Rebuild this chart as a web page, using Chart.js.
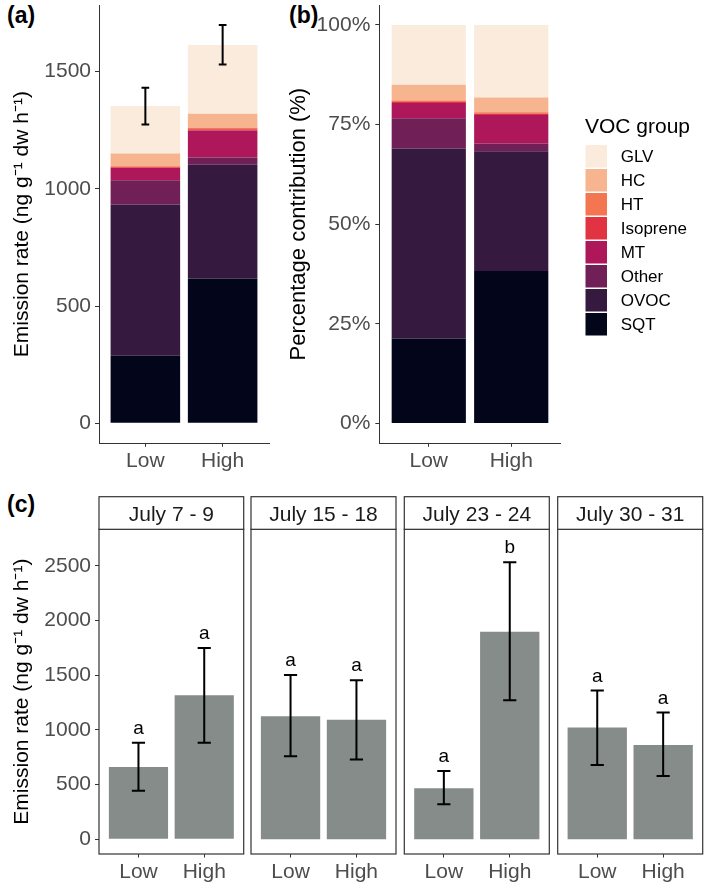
<!DOCTYPE html>
<html><head><meta charset="utf-8">
<script src="https://cdn.jsdelivr.net/npm/chart.js@4/dist/chart.umd.min.js"></script>
<style>
html,body{margin:0;padding:0;background:#fff;}
body{width:709px;height:888px;position:relative;overflow:hidden;font-family:'Liberation Sans',Arial,sans-serif;}
canvas{position:absolute;}
.lab{position:absolute;font-weight:bold;font-size:23px;line-height:23px;color:#000;}
</style></head><body>
<div class="lab" style="left:7px;top:4px">(a)</div>
<div class="lab" style="left:289px;top:4px">(b)</div>
<div class="lab" style="left:7px;top:493px">(c)</div>
<canvas id="cA" width="280" height="480" style="left:0;top:0"></canvas>
<canvas id="cB" width="433" height="480" style="left:276px;top:0"></canvas>
<canvas id="c1" width="247" height="404" style="left:0;top:484px"></canvas>
<canvas id="c2" width="153" height="404" style="left:247px;top:484px"></canvas>
<canvas id="c3" width="153" height="404" style="left:400px;top:484px"></canvas>
<canvas id="c4" width="156" height="404" style="left:553px;top:484px"></canvas>
<script>
// ---------- data ----------
const groups = ['SQT','OVOC','Other','MT','Isoprene','HT','HC','GLV'];
const groupColors = ['#03051A','#36193E','#701F57','#AE1759','#E13342','#F37651','#F6B48F','#FAEBDD'];
const lightLevels = ['Low','High'];
const SQT = [288, 617];
const OVOC = [645, 485];
const Other = [103, 31];
const MT = [52, 115];
const Isoprene = [3, 5];
const HT = [5, 6];
const HC = [54, 60];
const GLV = [203, 294];
const totalLower = [1274, 1529];
const totalUpper = [1430, 1698];
const yTicksA = [0, 500, 1000, 1500];
const yTicksB = [0, 25, 50, 75, 100];

const periods = ['July 7 - 9', 'July 15 - 18', 'July 23 - 24', 'July 30 - 31'];
const meanLow = [661, 1126, 466, 1022];
const meanHigh = [1318, 1092, 1898, 862];
const lowerLow = [444, 758, 320, 679];
const lowerHigh = [882, 730, 1272, 579];
const upperLow = [882, 1503, 624, 1360];
const upperHigh = [1750, 1455, 2534, 1159];
const letterLow = ['a', 'a', 'a', 'a'];
const letterHigh = ['a', 'a', 'b', 'a'];
const yTicksC = [0, 500, 1000, 1500, 2000, 2500];

// ---------- helpers ----------
const FAM = "'Liberation Sans', Arial, sans-serif";
Chart.defaults.font.family = FAM;
Chart.defaults.animation = false;
Chart.defaults.responsive = false;
Chart.defaults.plugins.legend.display = false;
Chart.defaults.plugins.tooltip.enabled = false;

const groupValues = [SQT, OVOC, Other, MT, Isoprene, HT, HC, GLV];
const totals = lightLevels.map((c, i) => groupValues.reduce((s, arr) => s + arr[i], 0));

function noPad(s) { s.paddingTop = 0; s.paddingBottom = 0; s.paddingLeft = 0; s.paddingRight = 0; }

function xScale(height, opts) {
  return Object.assign({
    type: 'linear', min: 0.4, max: 2.6, stacked: true, offset: false,
    afterBuildTicks: s => { s.ticks = lightLevels.map((c, i) => ({ value: i + 1 })); },
    afterFit: s => { s.height = height; noPad(s); },
    ticks: { callback: v => lightLevels[v - 1] ?? '', color: '#4d4d4d', font: { size: 21 }, padding: 2, maxRotation: 0, autoSkip: false },
    grid: { display: true, offset: false, drawOnChartArea: false, drawTicks: true, tickLength: 3.5, color: '#333', lineWidth: 1 },
    border: { display: true, color: '#333', width: 1 }
  }, opts || {});
}

function makeErr(lower, upper, letters, capUnits, lw, letterFont) {
  return {
    id: 'err',
    afterDatasetsDraw(chart) {
      const { ctx } = chart; const x = chart.scales.x, y = chart.scales.y;
      ctx.save();
      ctx.strokeStyle = '#000'; ctx.lineWidth = lw;
      upper.forEach((u, i) => {
        const xc = x.getPixelForValue(i + 1);
        const half = x.getPixelForValue(i + 1 + capUnits / 2) - xc;
        const yt = y.getPixelForValue(u), yb = y.getPixelForValue(lower[i]);
        ctx.beginPath();
        ctx.moveTo(xc, yt); ctx.lineTo(xc, yb);
        ctx.moveTo(xc - half, yt); ctx.lineTo(xc + half, yt);
        ctx.moveTo(xc - half, yb); ctx.lineTo(xc + half, yb);
        ctx.stroke();
        if (letters) {
          ctx.fillStyle = '#000'; ctx.font = letterFont + 'px ' + FAM;
          ctx.textAlign = 'center'; ctx.textBaseline = 'alphabetic';
          ctx.fillText(letters[i], xc, yt - 9);
        }
      });
      ctx.restore();
    }
  };
}

function stackedDatasets(valuesFor) {
  return groups.map((g, k) => ({
    label: g,
    data: lightLevels.map((c, i) => ({ x: i + 1, y: valuesFor(k, i) })),
    backgroundColor: groupColors[k], borderWidth: 0,
    categoryPercentage: 1, barPercentage: 0.9
  }));
}

const plainNum = v => String(v);

// ---------- panel (a) ----------
new Chart(document.getElementById('cA'), {
  type: 'bar',
  data: { datasets: stackedDatasets((k, i) => groupValues[k][i]) },
  options: {
    layout: { padding: { top: 5, right: 11, left: 0, bottom: 0 } },
    scales: {
      x: xScale(36.7),
      y: {
        min: -85, max: 1783, stacked: true,
        afterBuildTicks: s => { s.ticks = yTicksA.map(v => ({ value: v })); },
        afterFit: s => { s.width = 99; noPad(s); },
        ticks: { callback: plainNum, color: '#4d4d4d', font: { size: 21 }, padding: 4 },
        grid: { display: true, drawOnChartArea: false, drawTicks: true, tickLength: 4, color: '#333' },
        border: { display: true, color: '#333', width: 1 },
        title: { display: true, text: 'Emission rate (ng g⁻¹ dw h⁻¹)', color: '#000', font: { size: 21 }, padding: { top: 9.4, bottom: 0 } }
      }
    }
  },
  plugins: [makeErr(totalLower, totalUpper, null, 0.1, 2, 19)]
});

// ---------- panel (b) ----------
const legendPlugin = {
  id: 'vocLegend',
  afterDraw(chart) {
    const ctx = chart.ctx; const ox = 276;
    ctx.save();
    ctx.textAlign = 'left'; ctx.textBaseline = 'alphabetic';
    ctx.fillStyle = '#000'; ctx.font = '21px ' + FAM;
    ctx.fillText('VOC group', 585 - ox, 132.5);
    ctx.font = '17px ' + FAM;
    for (let r = 0; r < groups.length; r++) {
      const k = groups.length - 1 - r;
      const top = 145 + r * 24;
      ctx.fillStyle = groupColors[k];
      ctx.fillRect(585.5 - ox, top, 21.5, 22.5);
      ctx.fillStyle = '#000';
      ctx.fillText(groups[k], 620.7 - ox, top + 11 + 6.2);
    }
    ctx.restore();
  }
};

new Chart(document.getElementById('cB'), {
  type: 'bar',
  data: { datasets: stackedDatasets((k, i) => groupValues[k][i] / totals[i] * 100) },
  options: {
    layout: { padding: { top: 5, right: 148.3, left: 0, bottom: 0 } },
    scales: {
      x: xScale(36.7),
      y: {
        min: -5, max: 105, stacked: true,
        afterBuildTicks: s => { s.ticks = yTicksB.map(v => ({ value: v })); },
        afterFit: s => { s.width = 103.3; noPad(s); },
        ticks: { callback: v => v + '%', color: '#4d4d4d', font: { size: 21 }, padding: 5 },
        grid: { display: true, drawOnChartArea: false, drawTicks: true, tickLength: 4, color: '#333' },
        border: { display: true, color: '#333', width: 1 },
        title: { display: true, text: 'Percentage contribution (%)', color: '#000', font: { size: 22 }, padding: { top: 9.8, bottom: 0 } }
      }
    }
  },
  plugins: [legendPlugin]
});

// ---------- panel (c) ----------
function makeDecor(label) {
  return {
    id: 'decor',
    afterDraw(chart) {
      const { ctx, chartArea: a } = chart;
      ctx.save();
      ctx.strokeStyle = '#333'; ctx.lineWidth = 1.2;
      ctx.strokeRect(a.left, a.top, a.right - a.left, a.bottom - a.top);
      const sh = 32.6;
      ctx.fillStyle = '#fff';
      ctx.fillRect(a.left, a.top - sh, a.right - a.left, sh);
      ctx.strokeRect(a.left, a.top - sh, a.right - a.left, sh);
      ctx.fillStyle = '#1a1a1a'; ctx.font = '21px ' + FAM;
      ctx.textAlign = 'center'; ctx.textBaseline = 'alphabetic';
      ctx.fillText(label, (a.left + a.right) / 2, a.top - sh / 2 + 7.5);
      ctx.restore();
    }
  };
}

function makeC(idx, id, showY, padL, padR) {
  const means = [meanLow[idx], meanHigh[idx]];
  const lows = [lowerLow[idx], lowerHigh[idx]];
  const ups = [upperLow[idx], upperHigh[idx]];
  const lets = [letterLow[idx], letterHigh[idx]];
  new Chart(document.getElementById(id), {
    type: 'bar',
    data: {
      datasets: [{
        label: periods[idx],
        data: lightLevels.map((c, i) => ({ x: i + 1, y: means[i] })),
        backgroundColor: '#858C8A', borderWidth: 0,
        categoryPercentage: 1, barPercentage: 0.9
      }]
    },
    options: {
      layout: { padding: { top: 45.3, right: padR, left: padL, bottom: 0 } },
      scales: {
        x: xScale(34, { border: { display: false } }),
        y: {
          display: showY,
          min: -135, max: 2835,
          afterBuildTicks: s => { s.ticks = yTicksC.map(v => ({ value: v })); },
          afterFit: s => { s.width = showY ? 99 : 0; noPad(s); },
          ticks: { callback: plainNum, color: '#4d4d4d', font: { size: 21 }, padding: 4 },
          grid: { display: true, drawOnChartArea: false, drawTicks: true, tickLength: 4, color: '#333' },
          border: { display: false },
          title: { display: true, text: 'Emission rate (ng g⁻¹ dw h⁻¹)', color: '#000', font: { size: 21 }, padding: { top: 9.4, bottom: 0 } }
        }
      }
    },
    plugins: [makeErr(lows, ups, lets, 0.2, 2, 19), makeDecor(periods[idx])]
  });
}
makeC(0, 'c1', true, 0, 3.3);
makeC(1, 'c2', false, 4, 4);
makeC(2, 'c3', false, 4.3, 3.7);
makeC(3, 'c4', false, 4.7, 6.3);
</script>
</body></html>
